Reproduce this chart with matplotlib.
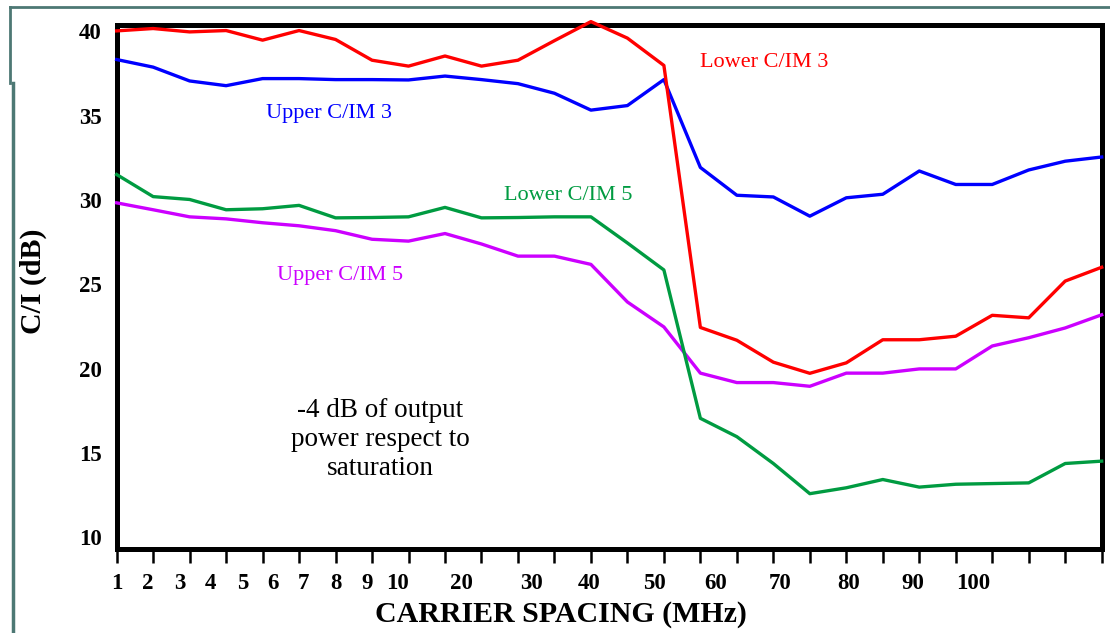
import numpy as np
import matplotlib.pyplot as plt
from matplotlib.lines import Line2D

plt.rcParams['font.family'] = ['Liberation Serif', 'DejaVu Serif']

# measurement points along the spacing axis (one per tick)
npts = 28
pts = np.arange(npts)

# spacing labels and where they sit along the tick row
spacing_labels = ['1', '2', '3', '4', '5', '6', '7', '8', '9', '10',
                  '20', '30', '40', '50', '60', '70', '80', '90', '100']
spacing_label_pos = [0, 0.86, 1.73, 2.58, 3.46, 4.28, 5.13, 6.01, 6.86, 7.71,
                     9.44, 11.36, 12.95, 14.73, 16.43, 18.18, 20.07, 21.83, 23.47]

# C/I in dB
lower_im3 = [40.03, 40.17, 39.97, 40.05, 39.48, 40.05, 39.52, 38.29, 37.94, 38.54,
             37.94, 38.29, 39.45, 40.58, 39.6, 37.98, 22.44, 21.68, 20.38, 19.72,
             20.34, 21.71, 21.71, 21.92, 23.16, 23.01, 25.19, 26.01]
upper_im3 = [38.33, 37.88, 37.06, 36.78, 37.2, 37.2, 37.14, 37.14, 37.12, 37.35,
             37.14, 36.9, 36.33, 35.33, 35.6, 37.14, 31.93, 30.28, 30.18, 29.04,
             30.13, 30.34, 31.72, 30.92, 30.92, 31.78, 32.3, 32.55]
lower_im5 = [31.51, 30.2, 30.03, 29.42, 29.48, 29.68, 28.94, 28.96, 29.0, 29.56,
             28.94, 28.96, 29.0, 29.0, 27.45, 25.85, 17.05, 15.96, 14.37, 12.58,
             12.93, 13.42, 12.97, 13.14, 13.18, 13.22, 14.37, 14.51]
upper_im5 = [29.83, 29.42, 29.0, 28.88, 28.65, 28.47, 28.18, 27.67, 27.56, 28.01,
             27.39, 26.67, 26.67, 26.18, 23.95, 22.47, 19.73, 19.17, 19.17, 18.95,
             19.73, 19.73, 19.98, 19.98, 21.34, 21.83, 22.41, 23.19]

yticks = [10, 15, 20, 25, 30, 35, 40]

fig = plt.figure(figsize=(11.1, 6.33), dpi=100)
ax = fig.add_axes([0.1051, 0.1322, 0.8874, 0.8278])

lw = 2.4
ax.plot(pts, upper_im5, color='#cc00ff', lw=lw, clip_on=False, zorder=3)
ax.plot(pts, lower_im5, color='#009b41', lw=lw, clip_on=False, zorder=3)
ax.plot(pts, upper_im3, color='#0000ff', lw=lw, clip_on=False, zorder=3)
ax.plot(pts, lower_im3, color='#ff0000', lw=lw, clip_on=False, zorder=3)

ax.set_xlim(0, npts - 1)
ax.set_ylim(9.28, 40.36)

for s in ax.spines.values():
    s.set_linewidth(3.6)
    s.set_zorder(2)

# plain ticks at every point, labels on a separate (minor) row
ax.xaxis.remove_overlapping_locs = False
ax.set_xticks(pts)
ax.set_xticklabels([])
ax.tick_params(axis='x', which='major', direction='out', length=10, width=1.8)
ax.set_xticks(spacing_label_pos, minor=True)
ax.set_xticklabels(spacing_labels, minor=True, fontsize=16.5, fontweight='bold')
ax.tick_params(axis='x', which='minor', length=0, pad=17)

ax.set_yticks(yticks)
ax.set_yticklabels([str(v) for v in yticks], fontsize=16.5, fontweight='bold')
ax.tick_params(axis='y', length=0, pad=11)

tfs = 16
ax.text(17.76, 37.89, 'Lower C/IM 3', color='#ff0000', fontsize=tfs, ha='center', va='baseline')
ax.text(5.83, 34.89, 'Upper C/IM 3', color='#0000ff', fontsize=tfs, ha='center', va='baseline')
ax.text(12.37, 29.98, 'Lower C/IM 5', color='#009b41', fontsize=tfs, ha='center', va='baseline')
ax.text(6.12, 25.28, 'Upper C/IM 5', color='#cc00ff', fontsize=tfs, ha='center', va='baseline')
ax.text(7.22, 15.8, '-4 dB of output\npower respect to\nsaturation', fontsize=19.5,
        ha='center', va='center', linespacing=1.2)

fig.text(561 / 1110, 1 - 621.7 / 633, 'CARRIER SPACING (MHz)', fontsize=21.5,
         fontweight='bold', ha='center', va='baseline')
fig.text(33 / 1110, 1 - 281 / 633, 'C/I (dB)', fontsize=21.5, fontweight='bold',
         rotation=90, ha='center', va='center')

# slide frame lines
frame = '#4d7874'
W, H = 1110, 633
fig.add_artist(Line2D([10 / W, 1], [1 - 7 / H, 1 - 7 / H], color=frame, lw=2))
fig.add_artist(Line2D([10 / W, 10 / W], [1 - 7 / H, 1 - 83 / H], color=frame, lw=2))
fig.add_artist(Line2D([13 / W, 13 / W], [1 - 83 / H, 0], color=frame, lw=2.5))

fig.savefig('out.png', dpi=100)
